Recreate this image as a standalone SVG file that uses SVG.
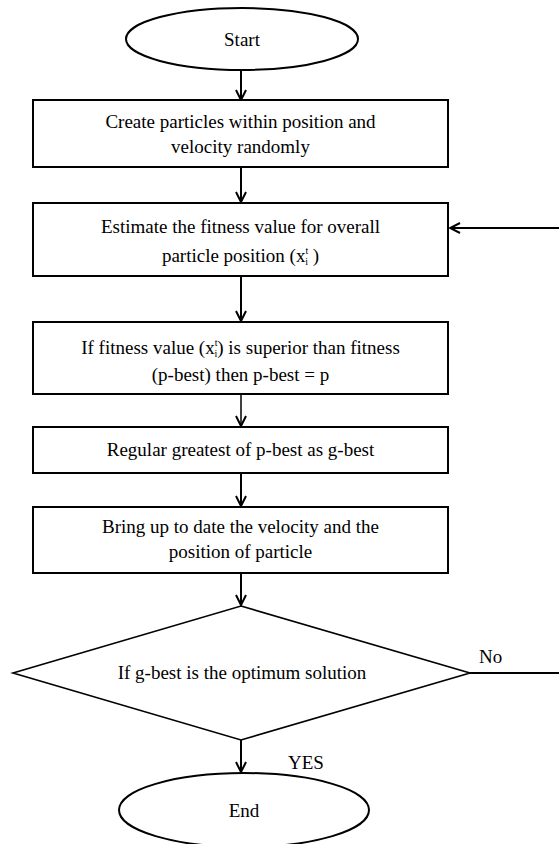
<svg xmlns="http://www.w3.org/2000/svg" width="559" height="844" viewBox="0 0 559 844">
<defs>
<style>
.shape{fill:#fff;stroke:#000;stroke-width:2}
.dia{fill:#fff;stroke:#000;stroke-width:1.6}
text{font-family:'Liberation Serif','Times New Roman',serif;font-size:19px;fill:#000}
.t{text-anchor:middle}
.c{fill:none;stroke:#000;stroke-width:2}
.s{font-size:10px}
</style>
<marker id="ah" viewBox="0 0 12 12" refX="11" refY="6" markerWidth="12" markerHeight="12" markerUnits="userSpaceOnUse" orient="auto">
<path d="M1,1 L11,6 L1,11" fill="none" stroke="#000" stroke-width="2"/>
</marker>
</defs>
<rect width="559" height="844" fill="#fff"/>
<g id="connectors">
<line class="c" x1="241" y1="70" x2="241" y2="100" marker-end="url(#ah)"/>
<line class="c" x1="241" y1="167" x2="241" y2="202" marker-end="url(#ah)"/>
<line class="c" x1="241" y1="276" x2="241" y2="321" marker-end="url(#ah)"/>
<line class="c" x1="241" y1="394" x2="241" y2="426" marker-end="url(#ah)" style="stroke-width:1.5"/>
<line class="c" x1="241" y1="473" x2="241" y2="506" marker-end="url(#ah)"/>
<line class="c" x1="241" y1="573" x2="241" y2="605" marker-end="url(#ah)"/>
<line class="c" x1="241" y1="740" x2="241" y2="772" marker-end="url(#ah)"/>
<line class="c" x1="470" y1="673" x2="559" y2="673"/>
<line class="c" x1="559" y1="228" x2="450" y2="228" marker-end="url(#ah)"/>
</g>
<g id="start">
<ellipse class="shape" cx="242" cy="39" rx="116" ry="31"/>
<text class="t" x="242" y="46" font-family="Liberation Serif, serif">Start</text>
</g>
<g id="create">
<rect class="shape" x="33" y="100" width="415" height="67"/>
<text class="t" x="240.5" y="128" font-family="Liberation Serif, serif">Create particles within position and</text>
<text class="t" x="240.5" y="153" font-family="Liberation Serif, serif">velocity randomly</text>
</g>
<g id="estimate">
<rect class="shape" x="33" y="203" width="415" height="73"/>
<text class="t" x="240.5" y="233" font-family="Liberation Serif, serif">Estimate the fitness value for overall</text>
<text class="t" x="240.5" y="262" font-family="Liberation Serif, serif">particle position (x<tspan class="s" dy="-8">t</tspan><tspan class="s" dx="-3" dy="11">i</tspan><tspan dy="-3"> )</tspan></text>
</g>
<g id="compare">
<rect class="shape" x="33" y="322" width="415" height="72"/>
<text class="t" x="240.5" y="354" font-family="Liberation Serif, serif">If fitness value (x<tspan class="s" dy="-8">t</tspan><tspan class="s" dx="-3" dy="11">i</tspan><tspan dy="-3">) is superior than fitness</tspan></text>
<text class="t" x="240.5" y="381" font-family="Liberation Serif, serif">(p-best) then p-best = p</text>
</g>
<g id="gbest">
<rect class="shape" x="33" y="427" width="415" height="46"/>
<text class="t" x="240.5" y="456" font-family="Liberation Serif, serif">Regular greatest of p-best as g-best</text>
</g>
<g id="update">
<rect class="shape" x="33" y="507" width="415" height="66"/>
<text class="t" x="240.5" y="533" font-family="Liberation Serif, serif">Bring up to date the velocity and the</text>
<text class="t" x="240.5" y="558" font-family="Liberation Serif, serif">position of particle</text>
</g>
<g id="decision">
<polygon class="dia" points="241,606 470,673 241,740 13,673"/>
<text class="t" x="242" y="679" font-family="Liberation Serif, serif">If g-best is the optimum solution</text>
<text x="479" y="663" font-family="Liberation Serif, serif">No</text>
<text x="288" y="769" font-family="Liberation Serif, serif">YES</text>
</g>
<g id="end">
<ellipse class="shape" cx="244" cy="810" rx="125" ry="37"/>
<text class="t" x="244" y="817" font-family="Liberation Serif, serif">End</text>
</g>
</svg>
